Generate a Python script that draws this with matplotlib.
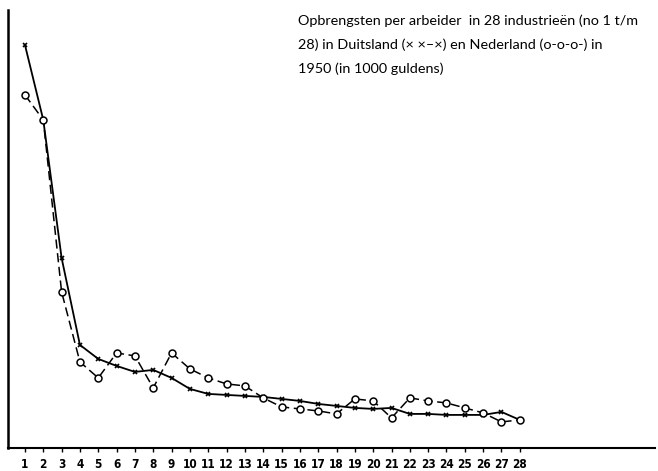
import matplotlib
matplotlib.use('Agg')
import matplotlib.pyplot as plt

industries = list(range(1, 29))
# Opbrengsten per arbeider (willekeurige eenheden)
duitsland = [40.5, 33.0, 19.2, 10.5, 9.1, 8.4, 7.8, 8.0, 7.2, 6.1, 5.6, 5.5, 5.4, 5.3,
             5.1, 4.9, 4.6, 4.4, 4.2, 4.1, 4.2, 3.6, 3.6, 3.5, 3.5, 3.5, 3.8, 3.0]
nederland = [35.5, 33.0, 15.8, 8.8, 7.2, 9.7, 9.4, 6.2, 9.7, 8.1, 7.2, 6.6, 6.4, 5.2,
             4.3, 4.1, 3.9, 3.6, 5.1, 4.9, 3.2, 5.2, 4.9, 4.7, 4.2, 3.7, 2.8, 3.0]
tick_labels = [str(i) for i in industries]

fig = plt.figure(figsize=(6.58, 4.71), dpi=100)
ax = fig.add_axes([0.012, 0.049, 0.983, 0.93])

ax.plot(industries, duitsland, color='black', linestyle='-', linewidth=1.3,
        marker='x', markersize=3, markeredgewidth=1.2)
ax.plot(industries, nederland, color='black', linestyle=(0, (6, 3)), linewidth=1.1,
        marker='o', markersize=5, markerfacecolor='white', markeredgewidth=1.1)

ax.set_xlim(0.07, 35.36)
ax.set_ylim(0.2, 44.0)
ax.set_xticks(industries)
ax.set_xticklabels(tick_labels, fontsize=8.5, fontweight='bold',
                   family='DejaVu Sans', fontstretch='condensed')
ax.set_yticks([])
ax.tick_params(axis='x', length=3, width=1, pad=4)
ax.spines['top'].set_visible(False)
ax.spines['right'].set_visible(False)
ax.spines['left'].set_linewidth(1.8)
ax.spines['bottom'].set_linewidth(1.5)

lines = ["Opbrengsten per arbeider  in 28 industrieën (no 1 t/m",
         "28) in Duitsland (× ×–×) en Nederland (o-o-o-) in",
         "1950 (in 1000 guldens)"]
for i, t in enumerate(lines):
    fig.text(0.453, 0.957 - i * 0.051, t, fontsize=10.4, family='Lato', va='center', ha='left')

fig.savefig('out.png', dpi=100)
